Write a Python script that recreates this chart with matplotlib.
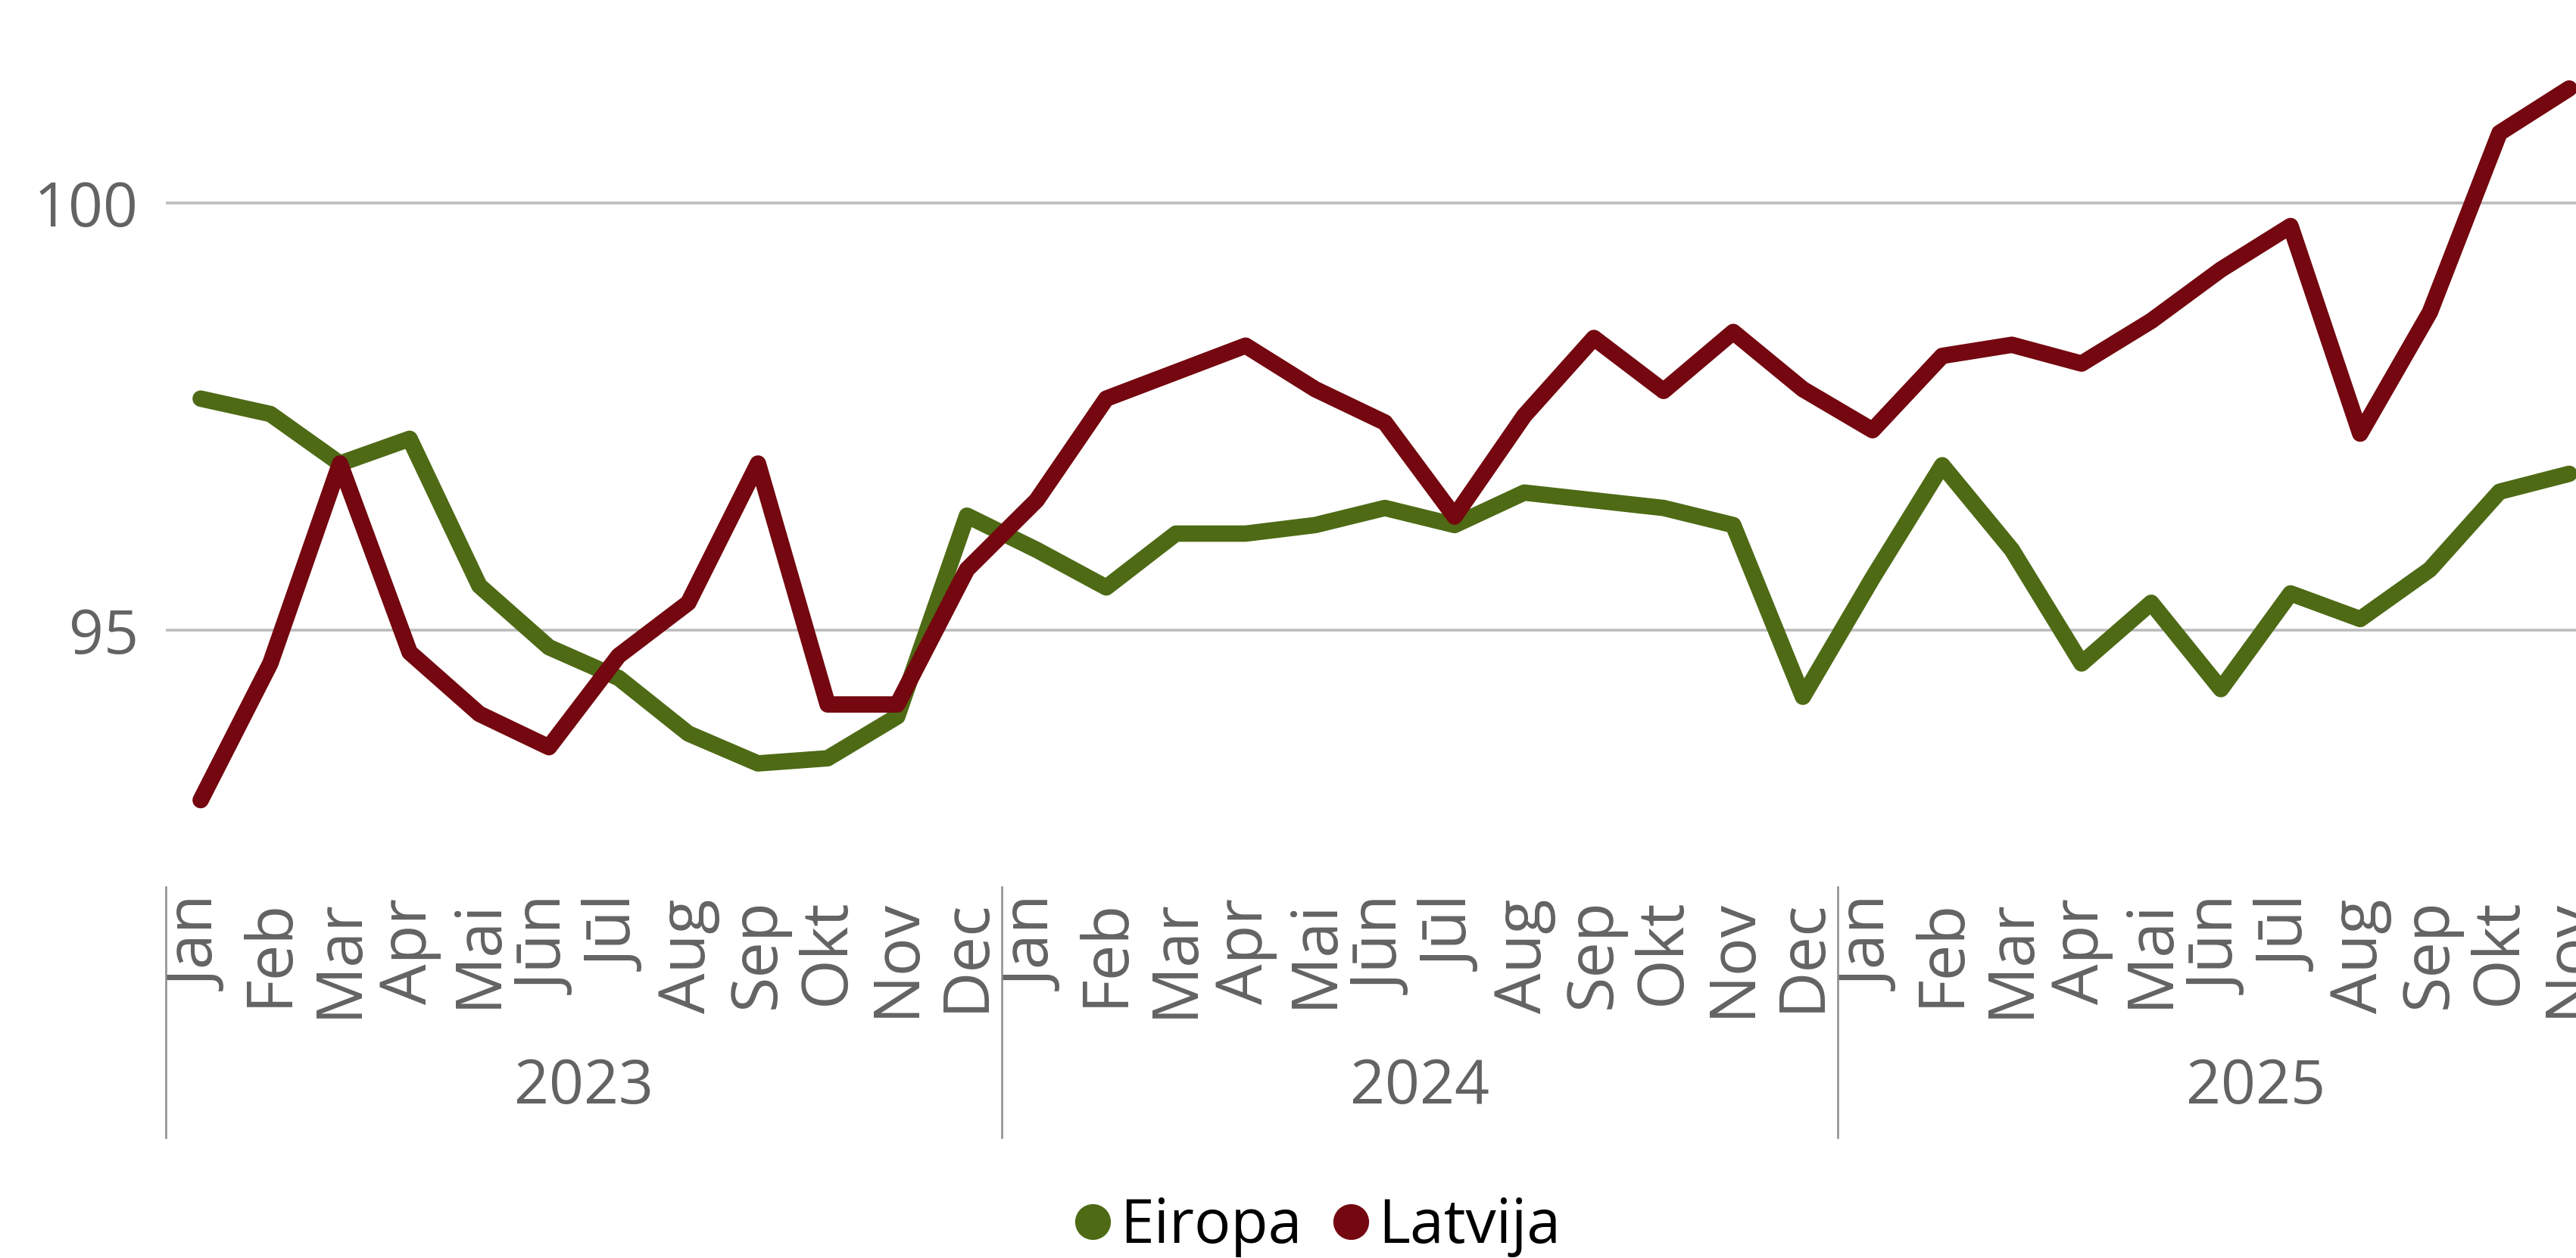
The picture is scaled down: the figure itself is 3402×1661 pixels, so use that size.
import matplotlib
matplotlib.use("Agg")
import matplotlib.pyplot as plt
import matplotlib.transforms as mtransforms
from matplotlib.lines import Line2D

plt.rcParams["font.family"] = ["Open Sans", "DejaVu Sans"]

# dati: jan 2023 .. nov 2025
years = ["2023", "2024", "2025"]
months = ["Jan", "Feb", "Mar", "Apr", "Mai", "Jūn", "Jūl", "Aug", "Sep", "Okt", "Nov", "Dec"]
month_labels = months * 2 + months[:11]

eiropa = [97.71, 97.53, 96.95, 97.24, 95.52, 94.80, 94.44, 93.79, 93.44, 93.50, 93.99, 96.34,
          95.94, 95.50, 96.13, 96.13, 96.23, 96.43, 96.23, 96.61, 96.52, 96.43, 96.23, 94.22,
          95.61, 96.93, 95.94, 94.61, 95.32, 94.31, 95.43, 95.13, 95.71, 96.62, 96.83]
latvija = [93.01, 94.61, 96.95, 94.74, 94.02, 93.63, 94.70, 95.32, 96.95, 94.13, 94.13, 95.71,
           96.52, 97.71, 98.02, 98.33, 97.82, 97.43, 96.33, 97.51, 98.42, 97.80, 98.49, 97.82,
           97.34, 98.21, 98.34, 98.12, 98.62, 99.22, 99.73, 97.30, 98.72, 100.82, 101.34]

GREEN = "#4e6a15"
RED = "#74070f"
GRAY = "#636363"

W, H, DPI = 3402, 1661, 200
fig = plt.figure(figsize=(W / DPI, H / DPI), dpi=DPI)

# plot area in pixels (runs past the right edge, like the source)
left_px, width_px = 219, 35 * 92
top_px, bottom_px = 0, 1150
ax = fig.add_axes([left_px / W, 1 - bottom_px / H, width_px / W, (bottom_px - top_px) / H])

x = list(range(len(month_labels)))
ax.plot(x, eiropa, color=GREEN, lw=7.8, solid_capstyle="round", solid_joinstyle="round",
        zorder=3, label="Eiropa")
ax.plot(x, latvija, color=RED, lw=7.8, solid_capstyle="round", solid_joinstyle="round",
        zorder=4, label="Latvija")

ax.set_xlim(-0.5, 34.5)
ax.set_ylim(100 - (bottom_px - 268) / 112.8, 100 + 268 / 112.8)
ax.set_yticks([95, 100])
ax.yaxis.grid(True, color="#bdbdbd", lw=1.3)
ax.set_axisbelow(True)
for s in ax.spines.values():
    s.set_visible(False)

ax.set_xticks(x)
ax.set_xticklabels(month_labels, rotation=90, color=GRAY, fontsize=30.5)
ax.tick_params(axis="x", length=0, pad=13)
ax.tick_params(axis="y", length=0, pad=13, labelsize=29, labelcolor=GRAY)

# year groups under the months
trans = mtransforms.blended_transform_factory(ax.transData, ax.transAxes)
h = bottom_px - top_px
y0 = (bottom_px - 1171) / h
y1 = (bottom_px - 1502) / h
for b in [-0.5, 11.5, 23.5]:
    ax.plot([b, b], [y0, y1], color="#8c8c8c", lw=0.9, transform=trans, clip_on=False)
for i, yr in enumerate(years):
    ax.text(5.5 + 12 * i, (bottom_px - 1436) / h, yr, transform=trans, ha="center",
            va="center", color=GRAY, fontsize=29)

handles = [Line2D([], [], color=GREEN, marker="o", ls="", markersize=16),
           Line2D([], [], color=RED, marker="o", ls="", markersize=16)]
fig.legend(handles, ["Eiropa", "Latvija"], loc="center", bbox_to_anchor=(1736 / W, 1 - 1620 / H),
           ncol=2, frameon=False, fontsize=29, handletextpad=0.05, columnspacing=0.4,
           handlelength=0.8)

fig.savefig("out.png", dpi=DPI)
